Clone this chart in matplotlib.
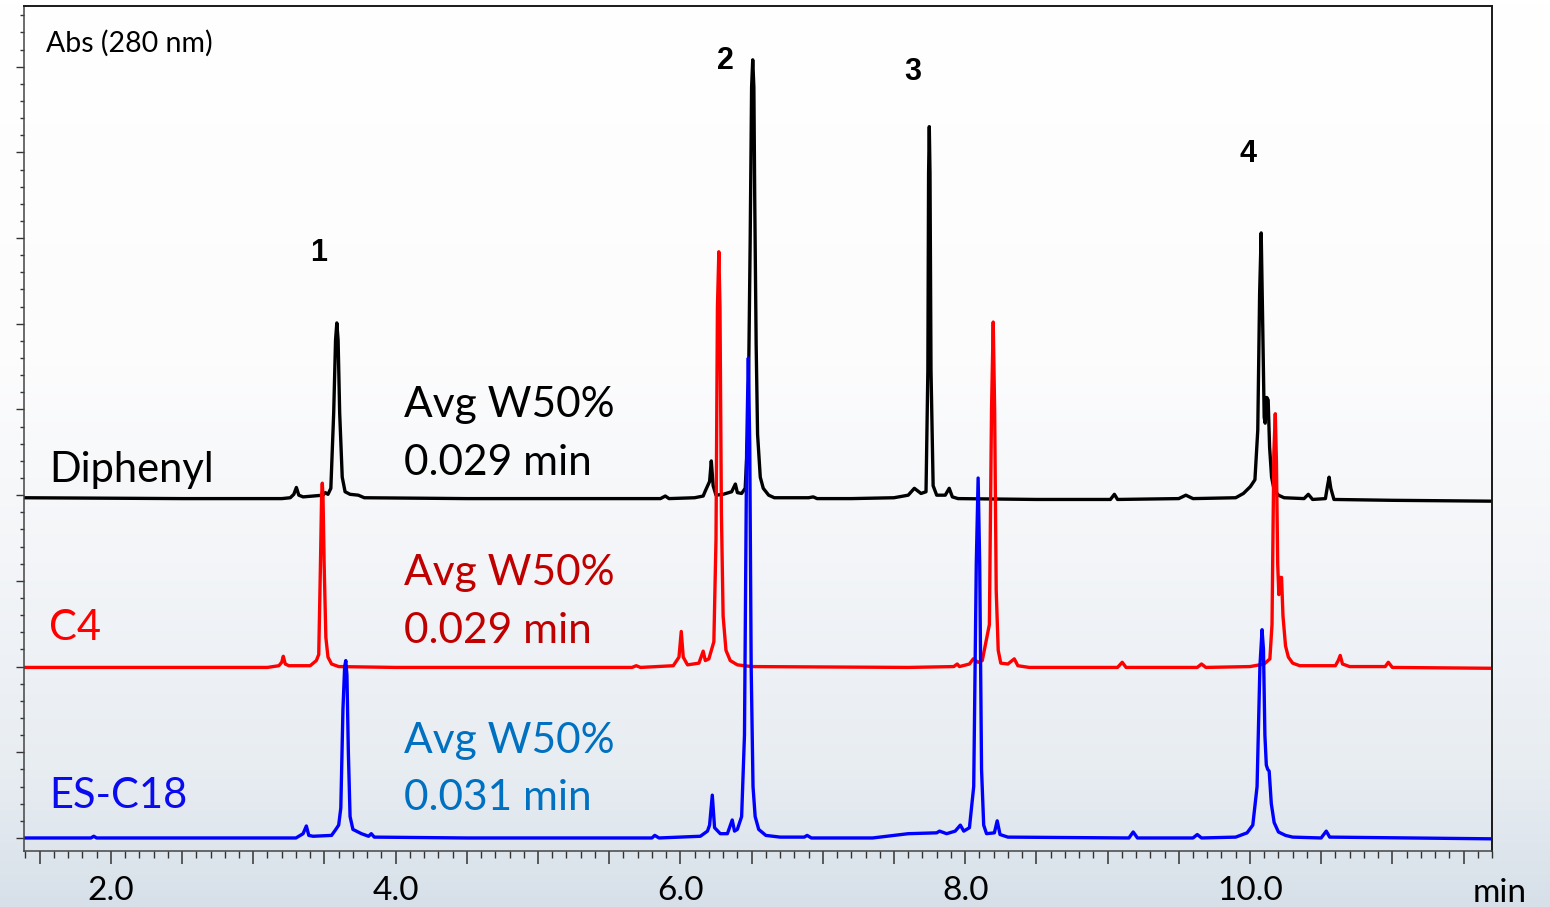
import numpy as np
import matplotlib
matplotlib.use("Agg")
import matplotlib.pyplot as plt
from matplotlib.ticker import MultipleLocator, FuncFormatter
from matplotlib.colors import LinearSegmentedColormap

plt.rcParams['font.family'] = ['Lato', 'DejaVu Sans']

W, H = 1550, 907

# ── chromatogram traces: (time [min], absorbance above own baseline) ─────────
diphenyl = [
    (1.39, 0.01), (2.50, 0.00), (3.20, 0.00), (3.26, 0.01), (3.285, 0.05),
    (3.303, 0.13), (3.32, 0.04), (3.35, 0.02), (3.42, 0.03), (3.49, 0.04),
    (3.506, 0.07), (3.525, 0.05), (3.545, 0.12), (3.565, 1.00), (3.578, 1.85),
    (3.587, 2.05), (3.596, 1.85), (3.607, 1.00), (3.625, 0.25), (3.645, 0.08),
    (3.68, 0.05), (3.738, 0.04), (3.78, 0.01), (4.50, 0.00), (5.50, 0.00),
    (5.86, 0.00), (5.894, 0.03), (5.92, 0.00), (6.10, 0.01), (6.16, 0.03),
    (6.175, 0.09), (6.205, 0.20), (6.217, 0.44), (6.23, 0.15), (6.25, 0.04),
    (6.30, 0.05), (6.36, 0.08), (6.386, 0.17), (6.40, 0.07), (6.43, 0.06),
    (6.455, 0.12), (6.475, 0.80), (6.490, 3.00), (6.500, 4.80), (6.508, 5.12),
    (6.516, 4.80), (6.522, 3.50), (6.532, 1.80), (6.542, 0.75), (6.561, 0.25),
    (6.582, 0.12), (6.62, 0.04), (6.66, 0.01), (6.90, 0.01), (6.933, 0.02),
    (6.96, 0.00), (7.20, 0.00), (7.50, 0.01), (7.60, 0.04), (7.643, 0.12),
    (7.69, 0.06), (7.725, 0.08), (7.738, 1.50), (7.743, 3.80), (7.748, 4.34),
    (7.753, 3.80), (7.760, 1.50), (7.775, 0.15), (7.80, 0.04), (7.86, 0.04),
    (7.888, 0.12), (7.91, 0.02), (7.95, 0.00), (8.50, -0.01), (9.02, -0.01),
    (9.048, 0.05), (9.07, -0.01), (9.50, 0.00), (9.55, 0.04), (9.60, 0.00),
    (9.90, 0.01), (9.954, 0.06), (10.003, 0.14), (10.035, 0.22), (10.055, 0.80),
    (10.068, 2.40), (10.079, 3.10), (10.088, 2.20), (10.100, 0.95), (10.107, 0.88),
    (10.118, 1.18), (10.128, 1.15), (10.138, 0.60), (10.152, 0.25), (10.17, 0.10),
    (10.20, 0.04), (10.24, 0.01), (10.38, 0.00), (10.41, 0.05), (10.44, -0.01),
    (10.53, 0.00), (10.545, 0.15), (10.556, 0.25), (10.568, 0.12), (10.59, -0.01),
    (11.00, -0.02), (11.70, -0.03),
]

c4 = [
    (1.39, 0.00), (3.10, 0.00), (3.18, 0.02), (3.20, 0.06), (3.211, 0.13),
    (3.225, 0.04), (3.25, 0.02), (3.40, 0.02), (3.443, 0.08), (3.46, 0.15),
    (3.472, 1.20), (3.480, 2.00), (3.485, 2.15), (3.490, 2.00), (3.498, 1.20),
    (3.510, 0.35), (3.525, 0.12), (3.55, 0.04), (3.60, 0.01), (4.00, 0.00),
    (5.66, 0.00), (5.69, 0.02), (5.72, 0.00), (5.95, 0.02), (5.99, 0.12),
    (6.006, 0.42), (6.02, 0.12), (6.05, 0.03), (6.13, 0.05), (6.160, 0.19),
    (6.175, 0.08), (6.20, 0.10), (6.235, 0.30), (6.250, 1.50), (6.260, 4.20),
    (6.270, 4.85), (6.278, 4.20), (6.288, 1.80), (6.300, 0.60), (6.32, 0.20),
    (6.35, 0.08), (6.40, 0.03), (6.50, 0.01), (7.60, 0.00), (7.92, 0.01),
    (7.944, 0.04), (7.96, 0.01), (8.03, 0.04), (8.057, 0.10), (8.09, 0.06),
    (8.12, 0.08), (8.17, 0.50), (8.185, 3.00), (8.197, 4.03), (8.207, 3.00),
    (8.218, 0.90), (8.232, 0.20), (8.25, 0.05), (8.30, 0.04), (8.345, 0.10),
    (8.37, 0.02), (8.45, 0.00), (9.07, 0.00), (9.103, 0.06), (9.13, 0.00),
    (9.63, 0.00), (9.66, 0.04), (9.69, 0.00), (10.00, 0.01), (10.10, 0.04),
    (10.14, 0.10), (10.155, 0.50), (10.168, 2.50), (10.178, 2.96), (10.186, 2.40),
    (10.195, 1.20), (10.203, 0.85), (10.212, 1.05), (10.222, 1.05), (10.232, 0.60),
    (10.25, 0.25), (10.27, 0.12), (10.30, 0.05), (10.35, 0.02), (10.60, 0.02),
    (10.62, 0.08), (10.634, 0.14), (10.65, 0.04), (10.70, 0.01), (10.95, 0.01),
    (10.972, 0.06), (11.00, 0.00), (11.70, -0.01),
]

es_c18 = [
    (1.39, 0.00), (1.86, 0.00), (1.88, 0.02), (1.90, 0.00), (3.30, 0.00),
    (3.35, 0.05), (3.373, 0.14), (3.39, 0.03), (3.42, 0.02), (3.55, 0.03),
    (3.58, 0.10), (3.600, 0.15), (3.615, 0.35), (3.630, 1.50), (3.642, 2.00),
    (3.650, 2.07), (3.658, 1.90), (3.668, 1.00), (3.680, 0.25), (3.70, 0.10),
    (3.76, 0.05), (3.81, 0.02), (3.829, 0.05), (3.85, 0.01), (4.50, 0.00),
    (5.80, 0.00), (5.82, 0.03), (5.85, 0.00), (6.14, 0.02), (6.19, 0.08),
    (6.205, 0.15), (6.224, 0.50), (6.24, 0.12), (6.28, 0.05), (6.33, 0.05),
    (6.364, 0.21), (6.38, 0.08), (6.40, 0.10), (6.43, 0.25), (6.450, 1.20),
    (6.465, 4.50), (6.477, 5.60), (6.487, 4.60), (6.497, 2.00), (6.510, 0.60),
    (6.525, 0.25), (6.55, 0.10), (6.60, 0.03), (6.70, 0.01), (6.87, 0.01),
    (6.89, 0.03), (6.92, 0.00), (7.35, 0.00), (7.60, 0.05), (7.80, 0.06),
    (7.82, 0.08), (7.87, 0.05), (7.93, 0.08), (7.966, 0.15), (7.99, 0.08),
    (8.03, 0.12), (8.06, 0.60), (8.078, 3.20), (8.091, 4.20), (8.102, 3.20),
    (8.115, 0.80), (8.130, 0.15), (8.15, 0.05), (8.205, 0.06), (8.225, 0.20),
    (8.245, 0.04), (8.30, 0.01), (9.15, 0.00), (9.18, 0.07), (9.21, 0.00),
    (9.60, 0.00), (9.63, 0.04), (9.66, 0.00), (9.90, 0.01), (9.98, 0.06),
    (10.02, 0.15), (10.05, 0.60), (10.070, 2.00), (10.085, 2.43), (10.095, 2.20),
    (10.105, 1.20), (10.115, 0.85), (10.125, 0.80), (10.135, 0.78), (10.15, 0.40),
    (10.17, 0.18), (10.20, 0.07), (10.25, 0.03), (10.30, 0.01), (10.50, 0.00),
    (10.536, 0.08), (10.56, 0.01), (11.70, -0.01),
]

traces = [diphenyl, c4, es_c18]
offsets = [3.96, 1.99, 0.0]
names = ["Diphenyl", "C4", "ES-C18"]
w50 = ["0.029 min", "0.029 min", "0.031 min"]
line_colors = ["#000000", "#FF0000", "#0000FF"]
name_colors = ["#000000", "#FF0000", "#0A0AEE"]
w50_colors = ["#000000", "#C00000", "#0070C0"]

peak_ids = ["1", "2", "3", "4"]
peak_id_t = [3.457, 6.315, 7.635, 9.988]
peak_id_y = [6.83, 9.07, 8.94, 7.98]

labelled_times = [2.0, 4.0, 6.0, 8.0, 10.0]


def fx(px):
    return px / W


def fy(py):
    return 1 - py / H


fig = plt.figure(figsize=(W / 100, H / 100), dpi=100)

# slide background: white at the top fading to pale blue-grey
bg = fig.add_axes([0, 0, 1, 1], zorder=0)
slide = LinearSegmentedColormap.from_list(
    "slide", [(0.0, "#ffffff"), (0.40, "#fcfcfd"), (0.62, "#f3f5f8"),
              (0.85, "#e8edf2"), (1.0, "#d7e0e9")])
bg.imshow(np.linspace(0, 1, 256).reshape(-1, 1), cmap=slide, aspect="auto",
          extent=[0, 1, 0, 1], origin="upper")
bg.axis("off")

ax = fig.add_axes([fx(24), fy(851), (1492 - 24) / W, (851 - 6) / H], zorder=1)
ax.patch.set_alpha(0)

for data, off, col in zip(traces, offsets, line_colors):
    t, a = np.array(data).T
    ax.plot(t, a + off, color=col, lw=2.4, solid_joinstyle="round")

ax.set_xlim(1.39, 11.70)
ax.set_ylim(-0.152, 9.708)

ax.xaxis.set_major_locator(MultipleLocator(0.5))
ax.xaxis.set_minor_locator(MultipleLocator(0.1))
ax.yaxis.set_major_locator(MultipleLocator(1))
ax.yaxis.set_minor_locator(MultipleLocator(0.2))


def time_label(x, pos):
    for v in labelled_times:
        if abs(x - v) < 1e-6:
            return f"{v:.1f}"
    return ""


ax.xaxis.set_major_formatter(FuncFormatter(time_label))
ax.set_yticklabels([])
ax.tick_params(axis="x", which="major", direction="out", length=9, width=1.1,
               color="#333333", labelsize=24, pad=9, labelcolor="black")
ax.tick_params(axis="x", which="minor", direction="out", length=5, width=1.0,
               color="#333333")
ax.tick_params(axis="y", which="major", direction="out", length=6, width=1.0,
               color="#333333")
ax.tick_params(axis="y", which="minor", direction="out", length=3, width=1.0,
               color="#333333")

for side in ["top", "right"]:
    ax.spines[side].set_color("#1a1a1a")
    ax.spines[side].set_linewidth(1.4)
for side in ["left", "bottom"]:
    ax.spines[side].set_color("#444444")
    ax.spines[side].set_linewidth(1.1)

# peak numbers
for lab, t, y in zip(peak_ids, peak_id_t, peak_id_y):
    ax.text(t, y, lab, ha="center", va="center", fontsize=22, fontweight="bold",
            family=["Liberation Sans", "DejaVu Sans"], color="black")

# annotation text
fig.text(fx(46), fy(52), "Abs (280 nm)", fontsize=20.5, color="black",
         ha="left", va="baseline")

name_base = [482, 640, 808]
w50_base = [(417, 475), (585, 643), (753, 810)]
for i in range(3):
    fig.text(fx(49), fy(name_base[i]), names[i], fontsize=30,
             color=name_colors[i], ha="left", va="baseline")
    fig.text(fx(404), fy(w50_base[i][0]), "Avg W50%", fontsize=30.5,
             color=w50_colors[i], ha="left", va="baseline")
    fig.text(fx(404), fy(w50_base[i][1]), w50[i], fontsize=30.5,
             color=w50_colors[i], ha="left", va="baseline")

fig.text(fx(1500), fy(893), "min", fontsize=24, color="black",
         ha="center", va="center")

fig.savefig("out.png", dpi=100)
